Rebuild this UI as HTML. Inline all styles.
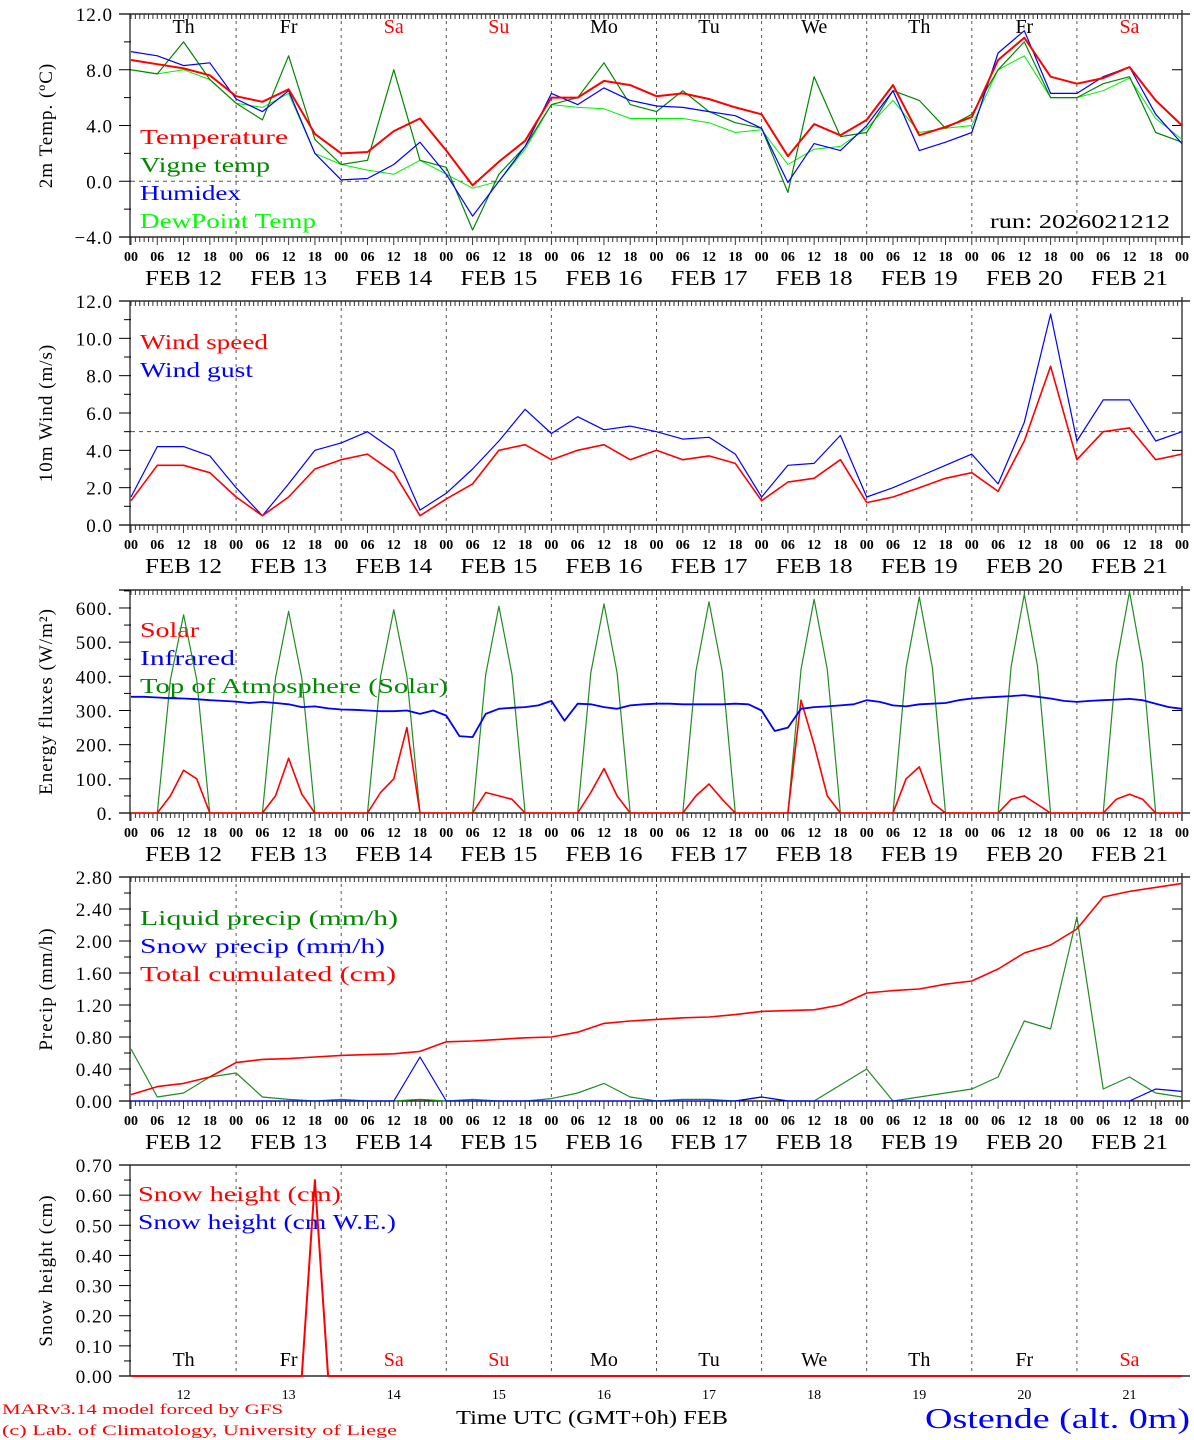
<!DOCTYPE html>
<html><head><meta charset="utf-8"><style>
html,body{margin:0;padding:0;background:#fff;}
svg{display:block;font-family:"Liberation Serif",serif;}
</style></head><body>
<svg id="c" width="1194" height="1440" viewBox="0 0 1194 1440"></svg>
<script>
// ---------- DATA (6-hourly unless noted, Feb 12 00 -> Feb 22 00) ----------
const dayNames = ["Th","Fr","Sa","Su","Mo","Tu","We","Th","Fr","Sa"];
const dayNums = ["12","13","14","15","16","17","18","19","20","21"];
const tempY = ["12.0","8.0","4.0","0.0","\u22124.0"];
const temp = [8.7,8.4,8.1,7.6,6.1,5.7,6.6,3.4,2.0,2.1,3.6,4.5,2.2,-0.3,1.4,2.9,6.0,6.0,7.2,6.9,6.1,6.3,5.9,5.3,4.8,1.8,4.1,3.3,4.4,6.9,3.3,3.9,4.6,8.7,10.3,7.5,7.0,7.4,8.2,5.8,4.0];
const vigne = [8.0,7.7,10.0,7.3,5.6,4.4,9.0,3.0,1.2,1.5,8.0,1.5,1.0,-3.5,0.5,2.5,5.5,6.0,8.5,5.5,5.0,6.5,5.0,4.2,3.8,-0.8,7.5,3.2,3.5,6.5,5.8,3.8,4.8,8.0,10.0,6.0,6.0,7.0,7.5,3.5,2.8];
const humidex = [9.3,9.0,8.3,8.5,5.9,5.0,6.5,2.0,0.1,0.2,1.2,2.8,0.5,-2.5,0.0,2.5,6.3,5.5,6.7,5.8,5.4,5.3,5.0,4.7,3.8,-0.1,2.7,2.2,4.0,6.5,2.2,2.8,3.5,9.2,10.8,6.3,6.3,7.5,8.2,4.8,2.7];
const dewpoint = [8.0,7.7,8.0,7.3,5.6,5.3,6.3,2.0,1.2,0.8,0.5,1.5,0.5,-0.5,0.0,2.3,5.5,5.3,5.2,4.5,4.5,4.5,4.2,3.5,3.7,1.2,2.3,2.5,3.8,5.8,3.5,3.8,4.0,8.0,9.0,6.0,6.0,6.5,7.4,4.5,3.0];
const windSpeed = [1.3,3.2,3.2,2.8,1.5,0.5,1.5,3.0,3.5,3.8,2.8,0.5,1.4,2.2,4.0,4.3,3.5,4.0,4.3,3.5,4.0,3.5,3.7,3.3,1.3,2.3,2.5,3.5,1.2,1.5,2.0,2.5,2.8,1.8,4.5,8.5,3.5,5.0,5.2,3.5,3.8];
const windGust = [1.5,4.2,4.2,3.7,2.0,0.5,2.2,4.0,4.4,5.0,4.0,0.8,1.7,3.0,4.5,6.2,4.9,5.8,5.1,5.3,5.0,4.6,4.7,3.8,1.5,3.2,3.3,4.8,1.5,2.0,2.6,3.2,3.8,2.2,5.5,11.3,4.5,6.7,6.7,4.5,5.0];
// 3-hourly
const solar = [0,0,0,50,125,100,0,0, 0,0,0,50,160,55,0,0, 0,0,0,60,100,250,0,0, 0,0,0,60,50,40,0,0, 0,0,0,60,130,50,0,0, 0,0,0,50,85,40,0,0, 0,0,0,330,200,50,0,0, 0,0,0,100,135,30,0,0, 0,0,0,40,50,25,0,0, 0,0,0,40,55,40,0,0, 0];
const infrared = [340,340,338,336,335,333,330,328, 326,322,325,322,318,310,312,306, 303,302,300,298,298,300,290,300, 285,225,222,290,305,308,310,315, 328,270,320,318,310,305,315,318, 320,320,318,318,318,318,320,318, 300,240,250,305,310,312,315,318, 330,325,315,312,318,320,322,330, 335,338,340,342,345,340,335,328, 325,328,330,332,334,330,320,310, 305];
const toa = [0,0,0,390,580,390,0,0, 0,0,0,395,590,395,0,0, 0,0,0,400,595,400,0,0, 0,0,0,405,605,405,0,0, 0,0,0,410,612,410,0,0, 0,0,0,415,618,415,0,0, 0,0,0,420,625,420,0,0, 0,0,0,425,632,425,0,0, 0,0,0,430,640,430,0,0, 0,0,0,435,648,435,0,0, 0];
const liquid = [0.65,0.05,0.1,0.3,0.35,0.05,0.02,0,0.02,0,0,0.02,0,0.02,0,0,0.03,0.1,0.22,0.05,0,0.02,0.02,0,0.05,0,0,0.2,0.4,0,0.05,0.1,0.15,0.3,1.0,0.9,2.3,0.15,0.3,0.1,0.05];
const snowPrecip = [0,0,0,0,0,0,0,0,0,0,0,0.55,0,0,0,0,0,0,0,0,0,0,0,0,0.05,0,0,0,0,0,0,0,0,0,0,0,0,0,0,0.15,0.12];
const cumul = [0.08,0.18,0.22,0.3,0.48,0.52,0.53,0.55,0.57,0.58,0.59,0.62,0.74,0.75,0.77,0.79,0.80,0.86,0.97,1.0,1.02,1.04,1.05,1.08,1.12,1.13,1.14,1.2,1.35,1.38,1.40,1.46,1.5,1.65,1.85,1.95,2.15,2.55,2.62,2.67,2.72];
const snowHeight = [0,0,0,0,0,0,0,0, 0,0,0,0,0,0,0.65,0, 0,0,0,0,0,0,0,0, 0,0,0,0,0,0,0,0, 0,0,0,0,0,0,0,0, 0,0,0,0,0,0,0,0, 0,0,0,0,0,0,0,0, 0,0,0,0,0,0,0,0, 0,0,0,0,0,0,0,0, 0,0,0,0,0,0,0,0, 0];

// ---------- helpers ----------
const NS = "http://www.w3.org/2000/svg";
const svg = document.getElementById("c");
const X0 = 131, X1 = 1182;
function xs(h){ return X0 + h * (X1 - X0) / 240; }
function mk(tag, attrs, name, parent){
  const el = document.createElementNS(NS, tag);
  for (const k in attrs) el.setAttribute(k, attrs[k]);
  
  
  (parent || svg).appendChild(el);
  return el;
}
function txt(s, x, y, size, fill, name, extra){
  const a = Object.assign({x:x, y:y, 'font-size':size, fill:fill}, extra || {});
  const t = mk('text', a, name);
  t.textContent = s;
  return t;
}
function series(arr, step, ys, color, width, name){
  let d = "";
  arr.forEach((v, i) => { d += (i ? "L" : "M") + xs(i * step).toFixed(1) + " " + ys(v).toFixed(1); });
  mk('path', {d:d, fill:'none', stroke:color, 'stroke-width':width, 'stroke-linejoin':'round'}, name);
}
function panel(p){
  const ys = v => p.bot - (v - p.min) / (p.max - p.min) * (p.bot - p.top);
  const g = mk('g', {}, p.name + '-axes');
  // day dashed lines
  for (let d = 1; d < 10; d++) {
    mk('line', {x1:xs(d*24), x2:xs(d*24), y1:p.top, y2:p.bot, stroke:'#555', 'stroke-dasharray':'3,4', 'stroke-width':1}, 'day-divider', g);
  }
  if (p.ref !== undefined) mk('line', {x1:X0, x2:X1, y1:ys(p.ref), y2:ys(p.ref), stroke:'#555', 'stroke-dasharray':'4,4', 'stroke-width':1}, 'reference-line', g);
  // frame
  mk('line', {x1:X0-12, x2:X1+8, y1:p.top, y2:p.top, stroke:'#000', 'stroke-width':1.3}, 'top-axis', g);
  mk('line', {x1:X0-12, x2:X1+8, y1:p.bot, y2:p.bot, stroke:'#000', 'stroke-width':1.3}, 'bottom-axis', g);
  mk('line', {x1:X0-1, x2:X0-1, y1:p.top, y2:p.bot+(p.noTicks?0:8), stroke:'#444', 'stroke-width':1.5}, 'left-axis', g);
  if (!p.noTicks) mk('line', {x1:X1, x2:X1, y1:p.top-4, y2:p.bot+8, stroke:'#444', 'stroke-width':1.5}, 'right-axis', g);
  // y ticks
  for (let v = p.min; v <= p.max + 1e-9; v += p.minor) {
    const y = ys(v);
    const major = Math.abs(Math.round((v - p.min) / p.major) * p.major - (v - p.min)) < 1e-6;
    mk('line', {x1:X0 - (major ? 12 : 7), x2:X0, y1:y, y2:y, stroke:'#000', 'stroke-width':1}, 'y-tick', g);
    if (major && !p.noTicks) mk('line', {x1:X1 - 10, x2:X1, y1:y, y2:y, stroke:'#000', 'stroke-width':1}, 'y-tick-right', g);
  }
  p.labels.forEach((s, i) => {
    txt(s, 113, ys(p.max - i * p.major) + 7, 19, '#000', 'y-tick-label', {'text-anchor':'end', 'letter-spacing':'1'});
  });
  // x ticks
  if (!p.noTicks) {
    for (let h = 0; h <= 240; h++) {
      const x = xs(h), L = (h % 6 === 0) ? 8 : 5;
      mk('line', {x1:x, x2:x, y1:p.top, y2:p.top + 5, stroke:'#333', 'stroke-width':1}, 'x-minor-tick-top', g);
      mk('line', {x1:x, x2:x, y1:p.bot, y2:p.bot + L, stroke:'#333', 'stroke-width':1}, 'x-minor-tick-bottom', g);
    }
    for (let h = 0; h <= 240; h += 6) {
      const hh = String(h % 24).padStart(2, '0');
      txt(hh, xs(h), p.bot + 24, 14, '#000', 'x-hour-label', {'text-anchor':'middle', 'font-weight':'bold'});
    }
    dayNums.forEach((n, d) => {
      txt('FEB ' + n, xs(d*24 + 12), p.bot + 48, 21, '#000', 'x-date-label', {'text-anchor':'middle', textLength:77, lengthAdjust:'spacingAndGlyphs'});
    });
  }
  const cy = (p.top + p.bot) / 2;
  txt(p.title, 52, cy, 19, '#000', 'y-axis-title', {'text-anchor':'middle', transform:'rotate(-90 52 ' + cy + ')', 'letter-spacing':'1'});
  p.legend.forEach((l, i) => {
    txt(l[0], p.legX || 140, p.legY + i * 28, 21, l[1], 'legend-entry', {textLength:l[2], lengthAdjust:'spacingAndGlyphs'});
  });
  return ys;
}
function dayLabels(y){
  dayNames.forEach((n, d) => {
    const c = (n === 'Sa' || n === 'Su') ? '#f00' : '#000';
    txt(n, xs(d*24 + 12), y, 20, c, 'weekday-label', {'text-anchor':'middle'});
  });
}

// ---------- Panel 1: temperature ----------
const y1 = panel({name:'temp', top:14, bot:237, min:-4, max:12, major:4, minor:2, labels:tempY, ref:0,
  title:'2m Temp. (\u00BAC)', legY:144,
  legend:[['Temperature','#f00',148],['Vigne temp','#080',130],['Humidex','#00f',101],['DewPoint Temp','#0f0',176]]});
dayLabels(33);
series(dewpoint, 6, y1, '#00ee00', 1, 'dewpoint-line');
series(vigne, 6, y1, '#008800', 1.2, 'vigne-temp-line');
series(humidex, 6, y1, '#0000ff', 1.2, 'humidex-line');
series(temp, 6, y1, '#ff0000', 2, 'temperature-line');
txt('run: 2026021212', 990, 228, 20, '#000', 'run-label', {textLength:180, lengthAdjust:'spacingAndGlyphs'});

// ---------- Panel 2: wind ----------
const y2 = panel({name:'wind', top:301, bot:525, min:0, max:12, major:2, minor:1,
  labels:["12.0","10.0","8.0","6.0","4.0","2.0","0.0"], ref:5, title:'10m Wind (m/s)', legY:349,
  legend:[['Wind speed','#f00',128],['Wind gust','#00f',113]]});
series(windGust, 6, y2, '#0000ff', 1.2, 'wind-gust-line');
series(windSpeed, 6, y2, '#ff0000', 1.6, 'wind-speed-line');

// ---------- Panel 3: energy ----------
const y3 = panel({name:'energy', top:590, bot:813, min:0, max:652.6, major:100, minor:50,
  labels:[], title:'Energy fluxes (W/m\u00B2)', legY:637,
  legend:[['Solar','#f00',59],['Infrared','#00f',95],['Top of Atmosphere (Solar)','#080',308]]});
["600.","500.","400.","300.","200.","100.","0."].forEach((s, i) => {
  txt(s, 113, y3(600 - i*100) + 7, 19, '#000', 'y-tick-label', {'text-anchor':'end', 'letter-spacing':'1'});
});
series(toa, 3, y3, '#228b22', 1.2, 'toa-solar-line');
series(solar, 3, y3, '#ff0000', 1.6, 'solar-line');
series(infrared, 3, y3, '#0000ff', 1.8, 'infrared-line');

// ---------- Panel 4: precip ----------
const y4 = panel({name:'precip', top:877, bot:1101, min:0, max:2.8, major:0.4, minor:0.2,
  labels:["2.80","2.40","2.00","1.60","1.20","0.80","0.40","0.00"], title:'Precip (mm/h)', legY:925,
  legend:[['Liquid precip (mm/h)','#080',258],['Snow precip (mm/h)','#00f',245],['Total cumulated (cm)','#f00',256]]});
series(liquid, 6, y4, '#228b22', 1.2, 'liquid-precip-line');
series(snowPrecip, 6, y4, '#0000ff', 1.2, 'snow-precip-line');
series(cumul, 6, y4, '#ff0000', 1.6, 'cumulated-precip-line');

// ---------- Panel 5: snow ----------
const y5 = panel({name:'snow', top:1165, bot:1376, min:0, max:0.7, major:0.1, minor:0.05, noTicks:true,
  labels:["0.70","0.60","0.50","0.40","0.30","0.20","0.10","0.00"], title:'Snow height (cm)', legY:1201, legX:138,
  legend:[['Snow height (cm)','#f00',203],['Snow height (cm W.E.)','#00f',258]]});
dayLabels(1366);
series(snowHeight, 3, y5, '#ff0000', 2, 'snow-height-line');
dayNums.forEach((n, d) => {
  txt(n, xs(d*24 + 12), 1399, 14, '#000', 'x-day-number', {'text-anchor':'middle'});
});

// ---------- footer ----------
txt('Time UTC (GMT+0h) FEB', 456, 1424, 20, '#000', 'x-axis-title', {textLength:272, lengthAdjust:'spacingAndGlyphs'});
txt('Ostende (alt. 0m)', 925, 1428, 28, '#00f', 'station-label', {textLength:265, lengthAdjust:'spacingAndGlyphs'});
txt('MARv3.14 model forced by GFS', 2, 1414, 15, '#f00', 'model-credit', {textLength:281, lengthAdjust:'spacingAndGlyphs'});
txt('(c) Lab. of Climatology, University of Liege', 2, 1435, 15, '#f00', 'copyright-credit', {textLength:395, lengthAdjust:'spacingAndGlyphs'});
</script>
</body></html>
